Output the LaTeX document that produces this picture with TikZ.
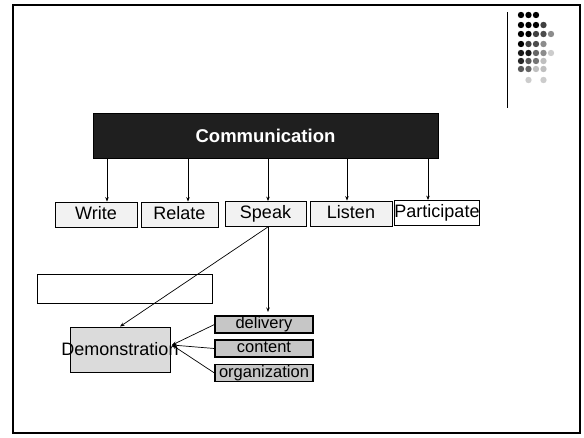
\documentclass[tikz,border=0pt]{standalone}
\usepackage{fontspec}
\setmainfont{Liberation Sans}
\usetikzlibrary{arrows.meta}
\begin{document}
\begin{tikzpicture}[x=1pt,y=-1pt,
  box/.style={draw=black, line width=0.8pt, inner sep=0pt, fill=gray!10,
    minimum height=25pt, text height=13pt, text depth=4pt,
    font=\fontsize{18}{18}\selectfont},
  sub/.style={draw=black, line width=1.1pt, inner sep=0pt, fill=gray!45,
    minimum width=98pt, minimum height=17pt, text height=12pt, text depth=3.5pt,
    font=\fontsize{16.5}{16}\selectfont},
  arr/.style={-{Stealth[length=4.5pt,width=3.5pt]}, line width=0.7pt}]
\useasboundingbox (0,0) rectangle (584,437);
\draw[line width=1.6pt] (13,5) rectangle (580,433);

% logo
\draw[line width=1pt] (507,12) -- (507,108);
\foreach \c/\r/\g in {
  521/15/100, 528.5/15/100, 536/15/100,
  521/25/100, 528.5/25/100, 536/25/100, 543.5/25/75,
  521/34/100, 528.5/34/100, 536/34/75, 543.5/34/70, 551/34/45,
  521/44/100, 528.5/44/75, 536/44/70, 543.5/44/45,
  521/53/90, 528.5/53/90, 536/53/60, 543.5/53/45, 551/53/20,
  521/61/85, 528.5/61/65, 536/61/55, 543.5/61/25,
  521/69/65, 528.5/69/60, 536/69/25, 543.5/69/25,
  528.5/80/20, 543.5/80/20}
  \fill[black!\g] (\c,\r) circle (3.2pt);

% top bar
\node[draw=black, fill=black!88, text=white, inner sep=0pt,
  minimum width=345pt, minimum height=45pt,
  font=\fontsize{18.5}{19}\selectfont\bfseries] (comm) at (265.5,135.5) {Communication};

% second row
\node[box, minimum width=82pt] (write) at (96,214.5) {Write};
\node[box, minimum width=77pt] (relate) at (179.5,214.5) {Relate};
\node[box, minimum width=81pt] (speak) at (265.5,214) {Speak};
\node[box, minimum width=82pt] (listen) at (351,213.5) {Listen};
\node[box, minimum width=82pt, fill=white] (part) at (437,213) {Participate};

\coordinate (wa) at ([xshift=11pt]write.north);
\coordinate (ra) at ([xshift=8.5pt]relate.north);
\coordinate (sa) at ([xshift=2.5pt]speak.north);
\coordinate (la) at ([xshift=-4pt]listen.north);
\coordinate (pa) at ([xshift=-9pt]part.north);
\foreach \t in {wa,ra,sa,la,pa}
  \draw[arr] (comm.south -| \t) -- (\t);

% empty box
\node[draw=black, line width=0.8pt, fill=white, minimum width=175pt,
  minimum height=29pt, inner sep=0pt] (blank) at (124.5,288.5) {};

% lower part
\node[draw=black, line width=0.9pt, fill=gray!28, inner sep=0pt,
  minimum width=100pt, minimum height=45pt,
  label={[font=\fontsize{18}{18}\selectfont, inner sep=0pt]center:Demonstration}] (demo) at (120,349.5) {};
\node[sub] (deliv) at (264,324.5) {delivery};
\node[sub] (cont) at (264,348.5) {content};
\node[sub] (org) at (264,373) {organization};

\coordinate (dv) at (268,312);
\coordinate (dm) at (172,345);
\draw[arr] (speak.south -| dv) -- (dv);
\draw[arr] (speak.south -| dv) -- (demo.north);
\draw[arr] (deliv.west) -- (dm);
\draw[arr] (cont.west) -- (dm);
\draw[arr] (org.west) -- (dm);
\end{tikzpicture}
\end{document}
